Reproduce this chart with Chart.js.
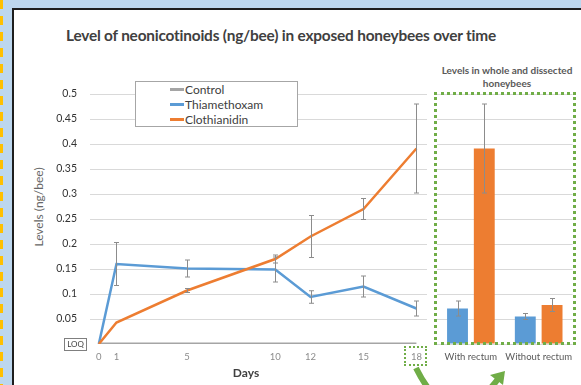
<!DOCTYPE html>
<html>
<head>
<meta charset="utf-8">
<script src="https://cdn.jsdelivr.net/npm/chart.js@4.4.1/dist/chart.umd.min.js"></script>
<style>
  html, body { margin: 0; padding: 0; }
  body {
    width: 581px; height: 385px; overflow: hidden; position: relative;
    background: #bdd7ee; font-family: Lato, "Open Sans", sans-serif;
  }
  .dashes {
    position: absolute; left: 0; top: 0; width: 3px; height: 385px;
    background: repeating-linear-gradient(to bottom, #ffc000 0 9px, transparent 9px 16px);
  }
  .panel {
    position: absolute; left: 12px; top: 8px; right: -4px; bottom: -4px;
    background: #fff; border-left: 2px solid #1e1e1e; border-top: 2px solid #1e1e1e;
  }
  .abs { position: absolute; white-space: nowrap; }
  #title {
    left: 281px; top: 26px; transform: translateX(-50%);
    font-weight: bold; font-size: 15.4px; color: #404040; letter-spacing: -0.2px;
  }
  #subtitle {
    left: 507px; top: 64px; transform: translateX(-50%); text-align: center;
    font-weight: bold; font-size: 10px; line-height: 12.5px; color: #595959;
  }
  #ytitle {
    left: 38px; top: 207px; transform: translate(-50%, -50%) rotate(-90deg);
    font-size: 12px; color: #666666;
  }
  #xtitle {
    left: 246px; top: 365px; transform: translateX(-50%);
    font-size: 12px; font-weight: bold; color: #404040;
  }
  #legend {
    left: 135px; top: 81px; width: 163px; height: 46px;
    border: 1px solid #a6a6a6; background: #fff; box-sizing: border-box;
  }
  .row { position: absolute; left: 34px; height: 15px; font-size: 12px; color: #404040; line-height: 15px; }
  .row i { display: inline-block; width: 14px; height: 3px; vertical-align: middle; margin-right: 1px; position: relative; top: -1px; }
  #loq {
    left: 64px; top: 338px; width: 21px; height: 11px; border: 1px solid #7f7f7f;
    font-size: 8px; line-height: 11px; text-align: center; color: #404040; box-sizing: content-box;
  }
  #box18 {
    left: 404px; top: 346px; width: 23px; height: 20px; border: 2px dotted #70ad47; box-sizing: border-box;
  }
  #boxBars {
    left: 434px; top: 92px; width: 142px; height: 253px; border: 3px dotted #70ad47; box-sizing: border-box;
  }
  canvas { position: absolute; top: 0; }
  #lineChart { left: 0; }
  #barChart { left: 420px; }
  svg { position: absolute; left: 0; top: 0; }
</style>
</head>
<body>
<div class="dashes"></div>
<div class="panel"></div>

<div id="title" class="abs">Level of neonicotinoids (ng/bee) in exposed honeybees over time</div>
<div id="subtitle" class="abs">Levels in whole and dissected<br>honeybees</div>
<div id="ytitle" class="abs">Levels (ng/bee)</div>

<canvas id="lineChart" width="440" height="385"></canvas>
<canvas id="barChart" width="161" height="385"></canvas>

<div id="xtitle" class="abs">Days</div>
<div id="loq" class="abs">LOQ</div>
<div id="box18" class="abs"></div>
<div id="boxBars" class="abs"></div>

<div id="legend" class="abs">
  <div class="row" style="top:0px"><i style="background:#a5a5a5"></i>Control</div>
  <div class="row" style="top:15px"><i style="background:#5b9bd5"></i>Thiamethoxam</div>
  <div class="row" style="top:30px"><i style="background:#ed7d31"></i>Clothianidin</div>
</div>

<svg width="581" height="385">
  <path d="M 416 368 Q 452 440 498 379" stroke="#70ad47" stroke-width="6" fill="none"/>
  <polygon points="505,371 503,385 490,375" fill="#70ad47"/>
</svg>

<script>
// Sampling days and mean residue levels (ng/bee) with their error margins
const days = [0, 1, 5, 10, 12, 15, 18];
const control = [0, 0, 0, 0, 0, 0, 0];
const thiamethoxam = [0, 0.160, 0.151, 0.149, 0.094, 0.115, 0.071];
const thiamethoxamErr = [0, 0.043, 0.017, 0.025, 0.0125, 0.021, 0.015];
const clothianidin = [0, 0.043, 0.107, 0.170, 0.215, 0.270, 0.391];
const clothianidinErr = [0, 0, 0.004, 0.008, 0.042, 0.021, 0.089];

// Y tick values (0 is marked as LOQ)
const levelTicks = [0, 0.05, 0.1, 0.15, 0.2, 0.25, 0.3, 0.35, 0.4, 0.45, 0.5];

// Day-18 bees, whole vs. with the rectum removed
const dissectCategories = ['With rectum', 'Without rectum'];
const dissectThiamethoxam = [0.071, 0.055];
const dissectThiamethoxamErr = [0.015, 0.006];
const dissectClothianidin = [0.391, 0.078];
const dissectClothianidinErr = [0.089, 0.013];

const BLUE = '#5b9bd5', ORANGE = '#ed7d31', GRAY = '#a5a5a5', GRID = '#d9d9d9';

Chart.defaults.font.family = 'Lato, "Open Sans", sans-serif';
Chart.defaults.animation = false;

// Draws vertical error bars with caps for datasets that carry an `errors` array
const errorBars = {
  id: 'errorBars',
  afterDatasetsDraw(chart) {
    const ctx = chart.ctx;
    const y = chart.scales.y;
    ctx.save();
    ctx.strokeStyle = '#8c8c8c';
    ctx.lineWidth = 1;
    chart.data.datasets.forEach((ds, di) => {
      if (!ds.errors) return;
      const meta = chart.getDatasetMeta(di);
      ds.data.forEach((pt, i) => {
        const e = ds.errors[i];
        if (!e) return;
        const v = typeof pt === 'object' ? pt.y : pt;
        const x = Math.round(meta.data[i].x) + 0.5;
        const top = y.getPixelForValue(v + e);
        const bot = y.getPixelForValue(v - e);
        ctx.beginPath();
        ctx.moveTo(x, top); ctx.lineTo(x, bot);
        ctx.moveTo(x - 2.5, top); ctx.lineTo(x + 2.5, top);
        ctx.moveTo(x - 2.5, bot); ctx.lineTo(x + 2.5, bot);
        ctx.stroke();
      });
    });
    ctx.restore();
  }
};

const toPoints = arr => arr.map((v, i) => ({ x: days[i], y: v }));

new Chart(document.getElementById('lineChart'), {
  type: 'line',
  data: {
    datasets: [
      { label: 'Control', data: toPoints(control), borderColor: GRAY, borderWidth: 3, order: 3 },
      { label: 'Thiamethoxam', data: toPoints(thiamethoxam), errors: thiamethoxamErr, borderColor: BLUE, borderWidth: 2.5, order: 2 },
      { label: 'Clothianidin', data: toPoints(clothianidin), errors: clothianidinErr, borderColor: ORANGE, borderWidth: 2.5, order: 1 }
    ]
  },
  options: {
    responsive: false,
    devicePixelRatio: 1,
    layout: { padding: { top: 94, right: 13, left: 0, bottom: 0 } },
    elements: { point: { radius: 0 }, line: { tension: 0, borderCapStyle: 'butt', borderJoinStyle: 'miter' } },
    plugins: { legend: { display: false }, tooltip: { enabled: false }, title: { display: false } },
    scales: {
      x: {
        type: 'linear', min: -0.5, max: 18.6,
        afterBuildTicks: s => { s.ticks = days.map(v => ({ value: v })); },
        afterFit: s => { s.height = 41; },
        grid: { display: false, drawTicks: false },
        border: { display: false },
        ticks: { padding: 7, color: '#8c8c8c', font: { size: 9.5 }, maxRotation: 0, autoSkip: false }
      },
      y: {
        min: 0, max: 0.5,
        afterBuildTicks: s => { s.ticks = levelTicks.map(v => ({ value: v })); },
        afterFit: s => { s.width = 90; },
        grid: { color: ctx => ctx.tick && ctx.tick.value === 0 ? 'rgba(0,0,0,0)' : GRID, drawTicks: false, lineWidth: 1 },
        border: { display: false },
        ticks: {
          padding: 13, color: '#333333', font: { size: 10.5 },
          callback: v => v === 0 ? '' : String(+v.toFixed(2))
        }
      }
    }
  },
  plugins: [errorBars]
});

new Chart(document.getElementById('barChart'), {
  type: 'bar',
  data: {
    labels: dissectCategories,
    datasets: [
      { label: 'Thiamethoxam', data: dissectThiamethoxam, errors: dissectThiamethoxamErr, backgroundColor: BLUE },
      { label: 'Clothianidin', data: dissectClothianidin, errors: dissectClothianidinErr, backgroundColor: ORANGE }
    ]
  },
  options: {
    responsive: false,
    devicePixelRatio: 1,
    layout: { padding: { top: 94, right: 8, left: 17, bottom: 0 } },
    datasets: { bar: { categoryPercentage: 0.79, barPercentage: 0.78 } },
    plugins: { legend: { display: false }, tooltip: { enabled: false } },
    scales: {
      x: {
        afterFit: s => { s.height = 41; },
        grid: { display: false, drawTicks: false },
        border: { display: false },
        ticks: { padding: 7, color: '#595959', font: { size: 9.5 }, maxRotation: 0, autoSkip: false }
      },
      y: {
        min: 0, max: 0.5,
        afterBuildTicks: s => { s.ticks = levelTicks.map(v => ({ value: v })); },
        afterFit: s => { s.width = 0; },
        grid: { color: GRID, drawTicks: false },
        border: { display: false },
        ticks: { display: false }
      }
    }
  },
  plugins: [errorBars]
});
</script>
</body>
</html>
